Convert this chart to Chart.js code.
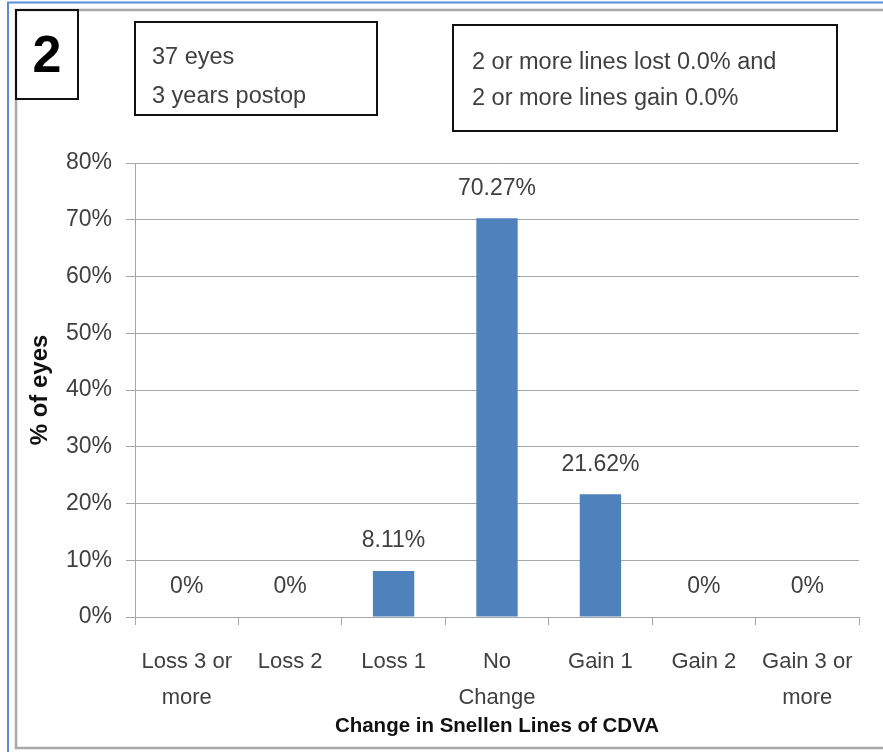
<!DOCTYPE html>
<html>
<head>
<meta charset="utf-8">
<script src="https://cdn.jsdelivr.net/npm/chart.js@4"></script>
<style>
  html, body { margin: 0; padding: 0; background: #fff; }
  #wrap { width: 883px; height: 752px; position: relative; }
</style>
</head>
<body>
<div id="wrap"><canvas id="c" width="883" height="752"></canvas></div>
<script>
// Change in corrected distance visual acuity (Snellen lines), 3 years postop
const categories = [["Loss 3 or", "more"], ["Loss 2"], ["Loss 1"], ["No", "Change"], ["Gain 1"], ["Gain 2"], ["Gain 3 or", "more"]];
const percentEyes = [0, 0, 8.11, 70.27, 21.62, 0, 0];
const yTicks = [0, 10, 20, 30, 40, 50, 60, 70, 80];
const panelNumber = "2";
const noteLines = ["37 eyes", "3 years postop"];
const summaryLines = ["2 or more lines lost 0.0% and", "2 or more lines gain 0.0%"];
const xTitle = "Change in Snellen Lines of CDVA";
const yTitle = "% of eyes";

const FONT = '"Liberation Sans", Arial, sans-serif';
const TEXT = '#404040';
const GRID = '#a6a6a6';
const BAR = '#4f81bd';

Chart.defaults.font.family = FONT;

// Outer frame and the annotation boxes
const framePlugin = {
  id: 'frame',
  beforeDraw(chart) {
    const ctx = chart.ctx;
    ctx.save();
    ctx.fillStyle = '#fff';
    ctx.fillRect(0, 0, chart.width, chart.height);
    // blue outer rule
    ctx.strokeStyle = '#5b8bd4';
    ctx.lineWidth = 2;
    ctx.beginPath();
    ctx.moveTo(8, 752); ctx.lineTo(8, 2.5); ctx.lineTo(883, 2.5);
    ctx.stroke();
    // grey inner rule
    ctx.strokeStyle = '#a9a9a9';
    ctx.lineWidth = 2.5;
    ctx.beginPath();
    ctx.moveTo(883, 10); ctx.lineTo(16, 10); ctx.lineTo(16, 748); ctx.lineTo(883, 748);
    ctx.stroke();
    ctx.restore();
  },
  afterDraw(chart) {
    const ctx = chart.ctx;
    ctx.save();
    ctx.strokeStyle = '#111';
    ctx.lineWidth = 2;
    // panel number box
    ctx.strokeRect(16, 10, 62, 89);
    ctx.fillStyle = '#000';
    ctx.font = 'bold 52px ' + FONT;
    ctx.textAlign = 'center';
    ctx.textBaseline = 'middle';
    ctx.fillText(panelNumber, 47, 58);
    // sample note box
    ctx.strokeRect(135, 22, 242, 93);
    ctx.fillStyle = TEXT;
    ctx.font = '23.5px ' + FONT;
    ctx.textAlign = 'left';
    ctx.fillText(noteLines[0], 152, 58);
    ctx.fillText(noteLines[1], 152, 97);
    // summary box
    ctx.strokeRect(453, 25, 384, 106);
    ctx.fillText(summaryLines[0], 472, 63);
    ctx.fillText(summaryLines[1], 472, 99);
    ctx.restore();
  }
};

// Percentage labels above each bar
const valueLabels = {
  id: 'valueLabels',
  afterDatasetsDraw(chart) {
    const ctx = chart.ctx;
    const meta = chart.getDatasetMeta(0);
    ctx.save();
    ctx.fillStyle = TEXT;
    ctx.font = '23px ' + FONT;
    ctx.textAlign = 'center';
    ctx.textBaseline = 'middle';
    meta.data.forEach((bar, i) => {
      const v = chart.data.datasets[0].data[i];
      const txt = v === 0 ? '0%' : v.toFixed(2) + '%';
      ctx.fillText(txt, bar.x, bar.y - 30);
    });
    ctx.restore();
  }
};

new Chart(document.getElementById('c'), {
  type: 'bar',
  data: {
    labels: categories,
    datasets: [{
      data: percentEyes,
      backgroundColor: BAR,
      borderWidth: 0,
      categoryPercentage: 1,
      barPercentage: 0.4
    }]
  },
  options: {
    responsive: false,
    animation: false,
    devicePixelRatio: 1,
    layout: { padding: { left: 16, top: 163, right: 24, bottom: 0 } },
    plugins: { legend: { display: false }, tooltip: { enabled: false } },
    scales: {
      x: {
        offset: true,
        ticks: { font: { size: 22, lineHeight: 1.636 }, color: TEXT, padding: 19, maxRotation: 0, autoSkip: false },
        grid: { drawOnChartArea: false, drawTicks: true, tickLength: 8, color: GRID, offset: true },
        border: { color: GRID },
        title: { display: true, text: xTitle, color: '#111', font: { size: 20.5, weight: 'bold' }, padding: { top: 0, bottom: 13 } },
        afterFit(s) { s.height = 135; }
      },
      y: {
        min: 0,
        max: 80,
        afterBuildTicks(s) { s.ticks = yTicks.map(v => ({ value: v })); },
        ticks: { callback: v => v + '%', font: { size: 23 }, color: TEXT, padding: 14 },
        grid: { color: GRID, lineWidth: 1, tickLength: 9 },
        border: { color: GRID },
        title: { display: true, text: yTitle, color: '#111', font: { size: 24, weight: 'bold' }, padding: { top: 10, bottom: 0 } },
        afterFit(s) { s.width = 119; }
      }
    }
  },
  plugins: [framePlugin, valueLabels]
});
</script>
</body>
</html>
